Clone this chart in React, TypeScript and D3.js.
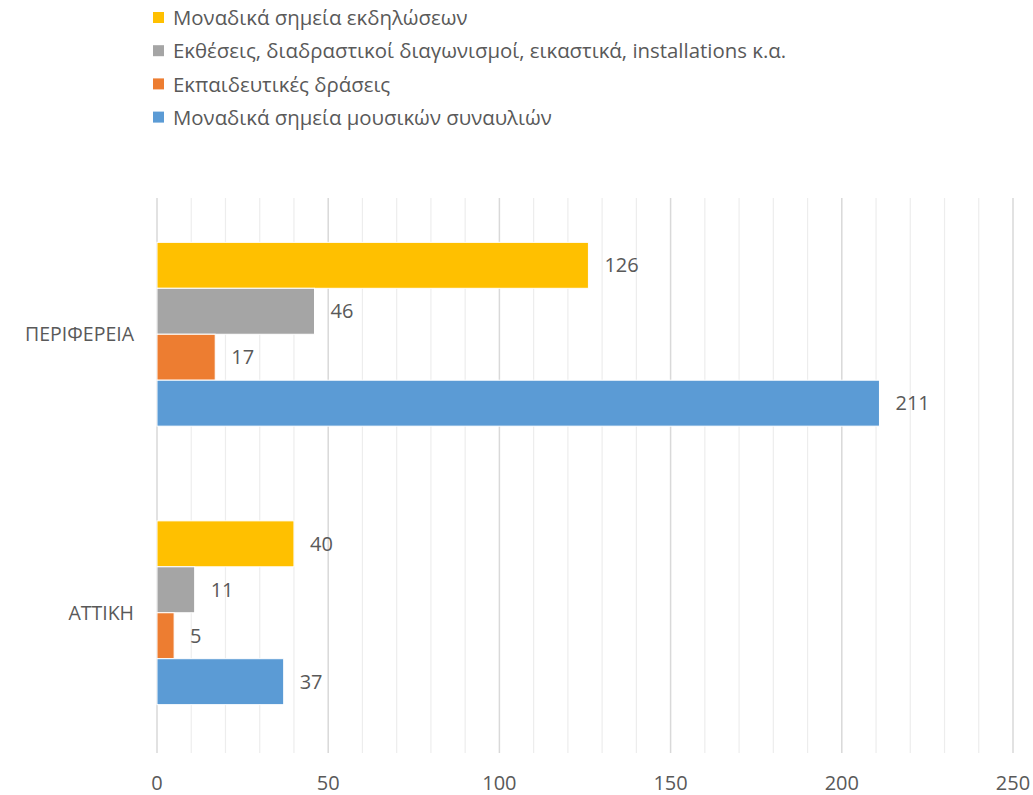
import React from 'react';
import * as d3 from 'd3';

// categories, bottom to top as in the source chart
const categories = ['ΑΤΤΙΚΗ', 'ΠΕΡΙΦΕΡΕΙΑ'];

// series, legend order (top first)
const seriesNames = [
  'Μοναδικά σημεία εκδηλώσεων',
  'Εκθέσεις, διαδραστικοί διαγωνισμοί, εικαστικά, installations κ.α.',
  'Εκπαιδευτικές δράσεις',
  'Μοναδικά σημεία μουσικών συναυλιών',
];
const seriesColors = ['#FFC000', '#A5A5A5', '#ED7D31', '#5B9BD5'];

// values per series, in categories order
const eventPoints = [40, 126];
const exhibitions = [11, 46];
const education = [5, 17];
const concertPoints = [37, 211];
const seriesValues = [eventPoints, exhibitions, education, concertPoints];

const xTicks = [0, 50, 100, 150, 200, 250];

const FONT = "'Open Sans', 'Liberation Sans', Arial, sans-serif";
const TEXT = '#595959';

export default function App() {
  const width = 1033;
  const height = 795;
  const plot = { left: 157, right: 1013, top: 198, bottom: 753 };

  const x = d3.scaleLinear().domain([0, 250]).range([plot.left, plot.right]);
  // top band is the last category
  const y = d3
    .scaleBand<string>()
    .domain([...categories].reverse())
    .range([plot.top - 3, plot.bottom - 1])
    .paddingInner(0.34)
    .paddingOuter(0.17);
  const inner = d3
    .scaleBand<string>()
    .domain(seriesNames)
    .range([0, y.bandwidth()]);

  const minor = d3.range(0, 251, 10).filter((v) => v % 50 !== 0);

  return (
    <svg width={width} height={height} style={{ display: 'block', position: 'absolute', left: 0, top: 0 }}>
      <rect width={width} height={height} fill="#fff" />
      {/* legend */}
      {seriesNames.map((name, i) => (
        <g key={name} transform={`translate(153, ${18 + i * 33.2})`}>
          <rect x={0} y={-6} width={11} height={11} fill={seriesColors[i]} />
          <text x={20} y={0} dy="0.35em" fontFamily={FONT} fontSize={20.4} fill={TEXT}>
            {name}
          </text>
        </g>
      ))}
      {/* grid */}
      {minor.map((v) => (
        <line key={`m${v}`} x1={x(v)} x2={x(v)} y1={plot.top} y2={plot.bottom} stroke="#EDEDED" strokeWidth={1.2} />
      ))}
      {xTicks.map((v) => (
        <line key={`g${v}`} x1={x(v)} x2={x(v)} y1={plot.top} y2={plot.bottom} stroke="#D9D9D9" strokeWidth={1.5} />
      ))}
      {/* bars */}
      {categories.map((cat, ci) => (
        <g key={cat}>
          {seriesNames.map((name, si) => {
            const v = seriesValues[si][ci];
            const by = (y(cat) ?? 0) + (inner(name) ?? 0);
            return (
              <g key={name}>
                <rect
                  x={x(0)}
                  y={by}
                  width={x(v) - x(0)}
                  height={inner.bandwidth()}
                  fill={seriesColors[si]}
                  stroke="#fff"
                  strokeWidth={1}
                />
                <text
                  x={x(v) + 16}
                  y={by + inner.bandwidth() / 2}
                  dy="0.35em"
                  fontFamily={FONT}
                  fontSize={20}
                  fill={TEXT}
                >
                  {v}
                </text>
              </g>
            );
          })}
          <text
            x={134}
            y={(y(cat) ?? 0) + y.bandwidth() / 2}
            dy="0.35em"
            textAnchor="end"
            fontFamily={FONT}
            fontSize={19.5}
            fill={TEXT}
          >
            {cat}
          </text>
        </g>
      ))}
      {/* x axis labels */}
      {xTicks.map((v) => (
        <text key={`t${v}`} x={x(v)} y={783} dy="0.35em" textAnchor="middle" fontFamily={FONT} fontSize={20} fill={TEXT}>
          {v}
        </text>
      ))}
    </svg>
  );
}
